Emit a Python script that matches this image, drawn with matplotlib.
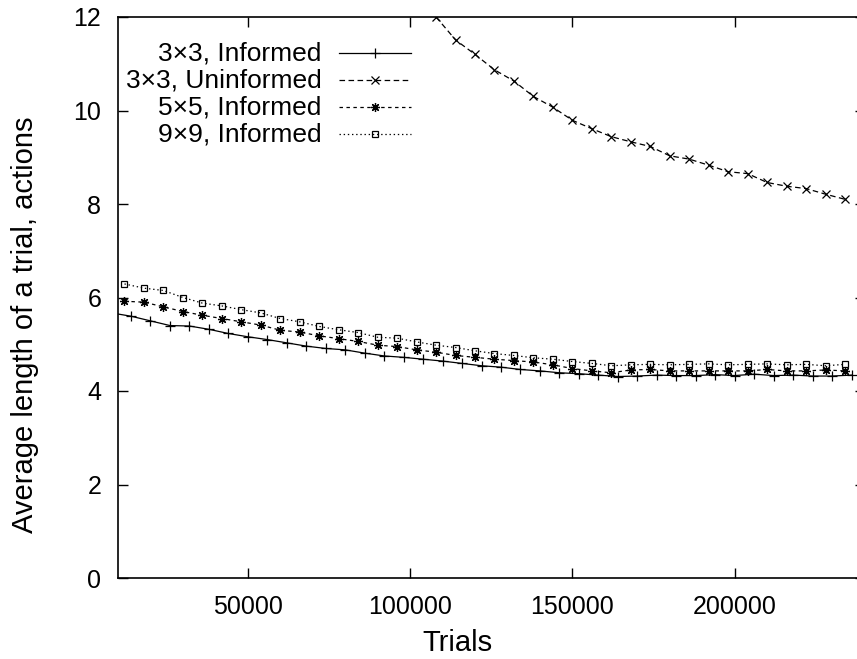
import numpy as np
import matplotlib
matplotlib.use('Agg')
import matplotlib.pyplot as plt

plt.rcParams['font.family'] = ['Liberation Sans', 'DejaVu Sans']
plt.rcParams['lines.scale_dashes'] = False

# trials for each series (every 6000 trials)
trials_3x3_inf = np.arange(8000, 236001, 6000)
trials_grid = np.arange(12000, 234001, 6000)
trials_3x3_uninf = np.arange(108000, 234001, 6000)

len_3x3_inf = [5.67, 5.60, 5.50, 5.40, 5.39, 5.32, 5.23, 5.16, 5.10, 5.03,
               4.96, 4.91, 4.88, 4.81, 4.75, 4.72, 4.68, 4.64, 4.59,
               4.54, 4.51, 4.46, 4.43, 4.39, 4.37, 4.34, 4.31, 4.32, 4.34,
               4.33, 4.33, 4.35, 4.33, 4.36, 4.33, 4.34, 4.32, 4.32, 4.34]
len_3x3_uninf = [12.0, 11.51, 11.20, 10.87, 10.63, 10.30, 10.07, 9.79, 9.61,
                 9.44, 9.33, 9.23, 9.03, 8.96, 8.83, 8.69, 8.65, 8.46, 8.38,
                 8.33, 8.21, 8.10]
len_5x5_inf = [5.92, 5.90, 5.80, 5.70, 5.62, 5.55, 5.48, 5.41, 5.30, 5.26,
               5.18, 5.12, 5.06, 4.98, 4.95, 4.88, 4.83, 4.76, 4.72,
               4.68, 4.65, 4.62, 4.56, 4.48, 4.43, 4.39, 4.45, 4.46,
               4.43, 4.43, 4.43, 4.43, 4.43, 4.46, 4.43, 4.43, 4.45, 4.43]
len_9x9_inf = [6.29, 6.20, 6.15, 6.00, 5.88, 5.82, 5.74, 5.67, 5.55, 5.48,
               5.38, 5.31, 5.25, 5.15, 5.13, 5.05, 4.98, 4.93, 4.86,
               4.80, 4.76, 4.71, 4.68, 4.63, 4.59, 4.54, 4.56, 4.57,
               4.56, 4.57, 4.58, 4.56, 4.57, 4.58, 4.56, 4.57, 4.54, 4.57]

labels = ['3\u00d73, Informed', '3\u00d73, Uninformed',
          '5\u00d75, Informed', '9\u00d79, Informed']

fig = plt.figure(figsize=(8.57, 6.59), dpi=100)
# right border sits just past the image edge, like the original
ax = fig.add_axes([118 / 857, 81 / 659, 746.5 / 857, 561 / 659])

styles = [
    dict(ls='-', marker='+', ms=7, dashes=None),
    dict(ls='--', marker='x', ms=6, dashes=(4, 2.5)),
    dict(ls='--', marker=(8, 2, 0), ms=6.5, dashes=(2.5, 2.5)),
    dict(ls=':', marker='s', ms=5, dashes=(1, 2)),
]
series = [(trials_3x3_inf, len_3x3_inf), (trials_3x3_uninf, len_3x3_uninf),
          (trials_grid, len_5x5_inf), (trials_grid, len_9x9_inf)]

for (x, y), st in zip(series, styles):
    line, = ax.plot(x, y, color='black', lw=0.9, ls=st['ls'], marker=st['marker'],
                    ms=st['ms'], mew=0.9, mfc='none', mec='black')
    if st['dashes'] is not None:
        line.set_dashes(st['dashes'])

# gnuplot-style key: right-aligned text, sample line on the right
key_y = [0.935, 0.887, 0.839, 0.791]
kx = [0.2961, 0.3437, 0.3921]
for lab, ky, st in zip(labels, key_y, styles):
    ax.text(0.2729, ky, lab, transform=ax.transAxes, ha='right', va='center',
            fontsize=19)
    kl, = ax.plot(kx, [ky, ky, ky], transform=ax.transAxes,
                  color='black', lw=0.9, ls=st['ls'], marker=st['marker'],
                  ms=st['ms'], mew=0.9, mfc='none', mec='black', markevery=[1])
    if st['dashes'] is not None:
        kl.set_dashes(st['dashes'])

ax.set_xlim(10000, 240000)
ax.set_ylim(0, 12)
ax.set_xticks([50000, 100000, 150000, 200000])
ax.set_yticks([0, 2, 4, 6, 8, 10, 12])
ax.tick_params(direction='in', length=7, width=1, top=True, right=True,
               labelsize=18, pad=12)
ax.set_xlabel('Trials', fontsize=21)
ax.set_ylabel('Average length of a trial, actions', fontsize=21)
ax.xaxis.set_label_coords(0.455, -0.091)
ax.yaxis.set_label_coords(-0.106, 0.451)
for s in ax.spines.values():
    s.set_linewidth(1.2)

fig.savefig('out.png', dpi=100)
